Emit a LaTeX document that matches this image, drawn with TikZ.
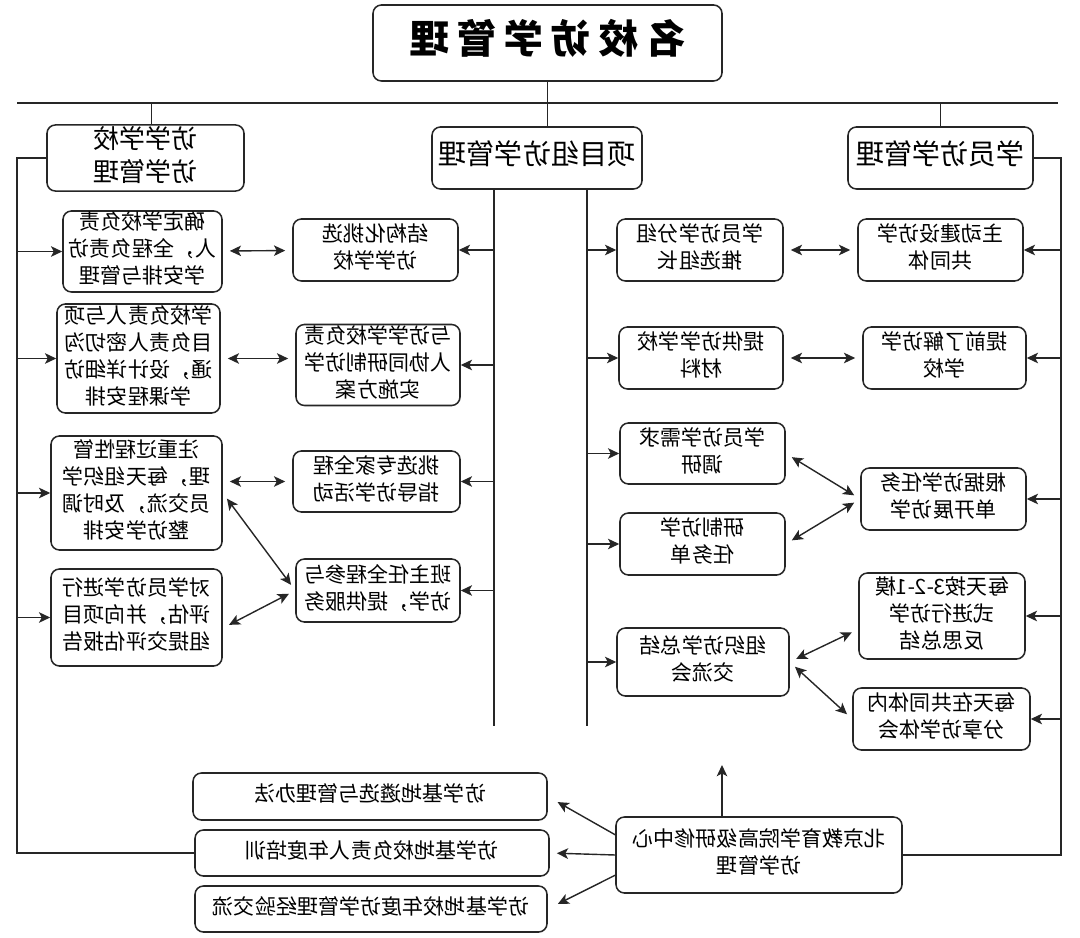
\documentclass[tikz,border=0pt]{standalone}
\usepackage{fontspec}
\setmainfont{Noto Sans CJK SC}
\usepackage{graphicx}
\usetikzlibrary{arrows.meta,positioning,calc}
\newdimen\pxu \pxu=0.025cm
% the reference is printed mirror-wise, so every text is flipped too
\newcommand\mir[1]{\reflectbox{\begin{tabular}{@{}c@{}}#1\end{tabular}}}
\tikzset{
  >={Stealth[length=8pt,width=7.5pt,inset=2pt]},
  line/.style ={line width=1pt, black!85},
  sz/.style 2 args={minimum width=#1\pxu, minimum height=#2\pxu},
  box/.style  ={draw=black!85, line width=1.1pt, rounded corners=6pt, inner sep=0pt, align=center, font=\fontsize{15}{19.2}\selectfont},
  hdr/.style  ={box, font=\fontsize{20}{23.5}\selectfont},
  arr/.style  ={->, line width=1pt, black!85},
  darr/.style ={<->, line width=1pt, black!85, shorten <=5pt, shorten >=5pt},
}
\begin{document}
\begin{tikzpicture}[x=1\pxu, y=-1\pxu]
  \useasboundingbox (0,0) rectangle (1080,938);
  % top
  \node[hdr, sz={349}{76}, font=\fontsize{28}{30}\selectfont\bfseries] (title) at (547.5,43)
    {\mir{名\hspace{.2em}校\hspace{.2em}访\hspace{.2em}学\hspace{.2em}管\hspace{.2em}理}};
  \node[hdr, sz={197}{62}, font=\fontsize{18.5}{23.5}\selectfont] (hSchool) at (145.5,158) {\mir{访学学校\\访学管理}};
  \node[hdr, sz={210}{62}] (hProj) at (537,158) {\mir{项目组访学管理}};
  \node[hdr, sz={185}{62}] (hStud) at (940.5,158) {\mir{学员访学管理}};
  % school side
  \node[box, sz={159}{77}]  (s1) at (142.5,251.5) {\mir{确定学校负责\\人，全程负责访\\学安排与管理}};
  \node[box, sz={163}{109}] (s2) at (138.5,358.5) {\mir{学校负责人与项\\目负责人密切沟\\通，设计详细访\\学课程安排}};
  \node[box, sz={171}{114}] (s3) at (136.5,493)   {\mir{注重过程性管\\理，每天组织学\\员交流，及时调\\整访学安排}};
  \node[box, sz={171}{97}]  (s4) at (136.5,617.5) {\mir{对学员访学进行\\评估，并向项目\\组提交评估报告}};
  \node[box, sz={165}{62}]  (p1) at (375.5,250)   {\mir{结构化挑选\\访学学校}};
  \node[box, sz={164}{78}]  (p2) at (378,365)     {\mir{与访学学校负责\\人协同研制访学\\实施方案}};
  \node[box, sz={167}{61}]  (p3) at (376.5,481.5) {\mir{挑选专家全程\\指导访学活动}};
  \node[box, sz={164}{63}]  (p4) at (378,590.5)   {\mir{班主任全程参与\\访学，提供服务}};
  % student side
  \node[box, sz={166}{62}]  (q1) at (700,250)     {\mir{学员访学分组\\推选组长}};
  \node[box, sz={164}{62}]  (q2) at (701,358)     {\mir{提供访学学校\\材料}};
  \node[box, sz={165}{61}]  (q3) at (702.5,453.5) {\mir{学员访学需求\\调研}};
  \node[box, sz={165}{62}]  (q4) at (702.5,544)   {\mir{研制访学\\任务单}};
  \node[box, sz={172}{68}]  (q5) at (703,662)     {\mir{组织访学总结\\交流会}};
  \node[box, sz={165}{62}]  (t1) at (940.5,250)   {\mir{主动建设访学\\共同体}};
  \node[box, sz={163}{62}]  (t2) at (944.5,358)   {\mir{提前了解访学\\学校}};
  \node[box, sz={165}{62}]  (t3) at (943.5,499)   {\mir{根据访学任务\\单开展访学}};
  \node[box, sz={166}{86}]  (t4) at (942,616)     {\mir{每天按3-2-1模\\式进行访学\\反思总结}};
  \node[box, sz={177}{62}]  (t5) at (941.5,719)   {\mir{每天在共同体内\\分享访学体会}};
  % bottom
  \node[box, sz={286}{76}]  (bj) at (759,855)     {\mir{北京教育学院高级研修中心\\访学管理}};
  \node[box, sz={354}{47}]  (e1) at (370,796.5)   {\mir{访学基地遴选与管理办法}};
  \node[box, sz={354}{46}]  (e2) at (372,853)     {\mir{访学基地校负责人年度培训}};
  \node[box, sz={352}{46}]  (e3) at (371,909)     {\mir{访学基地校年度访学管理经验交流}};

  \coordinate (barL) at (17,103);
  \coordinate (barR) at (1058,103);
  \coordinate (busL) at (17,158);
  \coordinate (busR) at (1061,158);
  \coordinate (busM1) at (494,726);
  \coordinate (busM2) at (587,726);
  \coordinate (up) at (722,765);

  % buses
  \draw[line, line width=1.4pt] (barL) -- (barR);
  \draw[line] (title.south) -- (title.south |- barL);
  \draw[line] (hSchool.80) -- (hSchool.80 |- barL);
  \draw[line] (hProj.north -| title.south) -- (title.south |- barL);
  \draw[line] (hStud.north) -- (hStud.north |- barL);
  \draw[line] (hSchool.west) -- (busL) |- (e2.west);
  \draw[line] (hStud.east) -- (busR) |- (bj.east);
  \draw[line] (hProj.south -| busM1) -- (busM1);
  \draw[line] (hProj.south -| busM2) -- (busM2);

  \foreach \n in {s1,s2,s3,s4} \draw[arr] (\n.west -| busL) -- (\n.west);
  \foreach \n in {p1,p2,p3,p4} \draw[arr] (\n.east -| busM1) -- (\n.east);
  \foreach \n in {q1,q2,q3,q4,q5} \draw[arr] (\n.west -| busM2) -- (\n.west);
  \foreach \n in {t1,t2,t3,t4,t5} \draw[arr] (\n.east -| busR) -- (\n.east);

  % two-way links
  \draw[darr] (s1) -- (p1);
  \draw[darr] (s2.east) -- (p2.west |- s2.east);
  \draw[darr] (s3.east |- p3.west) -- (p3.west);
  \draw[darr] (s3.east) -- (p4.west);
  \draw[darr] (s4.353) -- (p4.west);
  \draw[darr] (q1) -- (t1);
  \draw[darr] (q2) -- (t2);
  \draw[darr] (q3.east) -- (t3.west);
  \draw[darr] (q4.east) -- (t3.west);
  \draw[darr] (q5.east) -- (t4.189);
  \draw[darr] (q5.east) -- (t5.west);

  % Beijing centre
  \draw[arr] (bj.north -| up) -- (up);
  \draw[arr, shorten >=8pt] (bj.172) -- (e1.east);
  \draw[arr, shorten >=5pt] (bj.west) -- (e2.east);
  \draw[arr, shorten >=8pt] (bj.188) -- (e3.east);
\end{tikzpicture}
\end{document}
